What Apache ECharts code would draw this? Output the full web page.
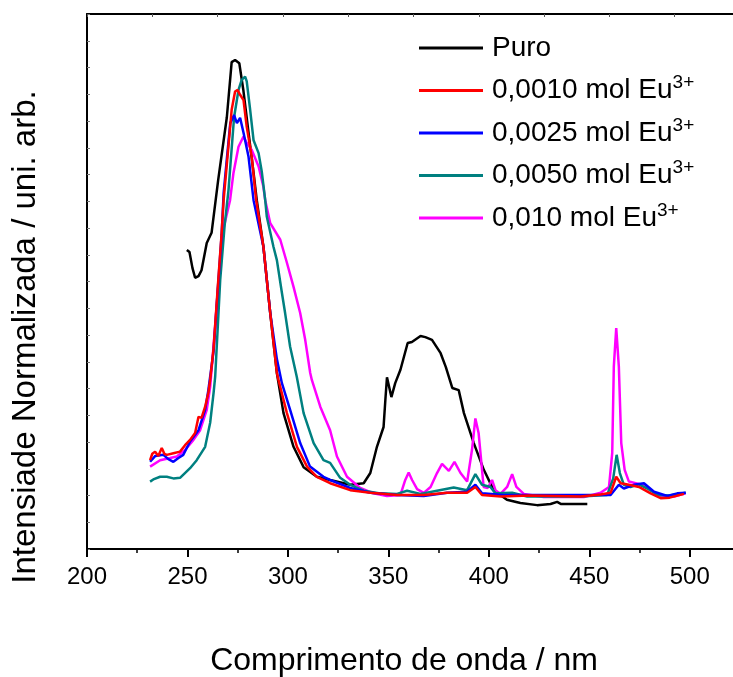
<!DOCTYPE html>
<html>
<head>
<meta charset="utf-8">
<script src="https://cdn.jsdelivr.net/npm/echarts@6/dist/echarts.min.js"></script>
<style>
  html, body { margin: 0; padding: 0; background: #fff; }
  #chart { width: 733px; height: 677px; }
</style>
</head>
<body>
<div id="chart"></div>
<script>
// [comprimento de onda (nm), intensidade normalizada]
const puro = [
  [249.7,55.9],[251,55.5],[252.5,52.5],[253.8,50.7],[255.5,51.0],[257,52.1],[259.6,57.2],[262,59.1],
  [265.3,69.0],[269.6,80.7],[272,91.0],[273.7,91.4],[275.8,90.8],[277.8,85.8],[280.4,77.8],[282.9,70.3],
  [284.5,65.2],[287.8,56.5],[291.2,44.1],[294.5,32.9],[297.8,25.4],[302.8,19.1],[307.8,15.3],[314.4,13.5],
  [321,12.9],[331,12.0],[337.7,12.3],[341,14.2],[344.3,19.1],[347.6,22.8],[348.5,27.9],[349.3,32.1],
  [351.5,28.4],[353.4,31.0],[356,33.5],[359.6,38.5],[361.7,38.7],[366,39.8],[368.4,39.6],[371.7,39.1],
  [376,36.6],[378.6,34.0],[381.8,30.1],[385,29.7],[387.6,25.4],[392.5,19.8],[397.5,14.8],[402.4,11.0],
  [409,9.2],[415.7,8.6],[424,8.2],[430.7,8.4],[434,8.8],[436,8.4],[449,8.4]
];
const eu0010 = [
  [231.4,16.6],[232.5,17.8],[233.9,18.2],[235.5,17.4],[237.2,18.9],[238.5,17.8],[239.7,17.6],[243,17.9],
  [246.3,18.2],[248.8,19.4],[251.3,20.4],[253.8,21.7],[255.5,24.7],[257,24.5],[258.8,26.6],[260.4,29.2],
  [261.3,31.6],[263,37.5],[265,48.5],[267,59.0],[268,65.2],[270,73.6],[272,82.1],[273.7,85.5],[274.9,85.8],
  [276.2,84.9],[277.9,83.9],[279.5,78.9],[282,73.3],[284.2,65.2],[287.8,56.5],[291.2,44.1],[294.5,32.9],
  [295.3,31.6],[299.5,25.4],[304.5,19.1],[309.5,15.4],[314.4,13.5],[321,12.3],[331,11.0],[341,10.5],
  [354.3,10.1],[367.6,10.1],[379.2,10.5],[389.2,10.5],[393.3,11.6],[396.6,10.1],[406,9.8],[420,10.0],
  [445.7,9.8],[455.6,10.2],[460.6,10.5],[463.4,13.5],[465.6,12.3],[469.7,12.0],[474.7,11.6],[480.5,10.4],
  [485.5,9.5],[490,9.6],[497.1,10.3]
];
const eu0025 = [
  [231.4,16.3],[234,17.4],[238,17.6],[240.5,16.8],[243,16.3],[245.5,17.0],[247.9,17.6],[251.3,20.1],
  [255.5,22.2],[258.8,26.0],[260.4,29.7],[263,37.0],[265,48.0],[267,58.7],[268,66.5],[269.5,72.5],
  [271.3,79.6],[273.2,81.1],[274.6,79.6],[276.2,80.6],[277.9,77.8],[280.4,73.3],[282.9,65.2],[287.8,56.5],
  [291.2,44.1],[294.5,35.5],[297,31.0],[301.1,26.0],[306.1,19.8],[311,15.4],[317.7,13.5],[321,12.9],
  [331,11.4],[341,10.5],[354.3,10.1],[367.6,9.9],[379.2,10.5],[389.2,10.7],[393.3,12.0],[396.6,10.4],
  [407.4,10.1],[434,10.1],[446,10.1],[460.6,10.1],[464.7,12.0],[467.2,11.3],[472.2,12.0],[477.2,12.3],
  [482.2,10.7],[488.8,9.9],[493.8,10.4],[498,10.5]
];
const eu0050 = [
  [231.4,12.6],[233,13.0],[236.4,13.5],[239.7,13.5],[243,13.2],[246.3,13.3],[251.3,15.1],[254.6,16.6],
  [258.8,19.1],[261.3,23.6],[263,29.2],[263.8,32.2],[266.3,50.3],[268.5,60.5],[270.4,67.0],[273.2,80.7],
  [275.4,85.8],[277,87.7],[278.7,88.3],[279.5,87.4],[281.2,82.1],[282.9,76.4],[285.4,74.0],[287,70.5],
  [288.7,65.2],[289.5,62.1],[292.8,56.5],[294.5,54.0],[297,47.9],[298.6,44.1],[301.1,37.8],[304.4,32.2],
  [307.8,25.4],[312.8,19.8],[317.7,16.6],[321,16.1],[326,13.3],[331,12.0],[337.7,10.9],[346,10.4],
  [354.3,10.3],[359.3,10.9],[366,10.3],[374.2,10.9],[382.5,11.5],[389.2,11.0],[393.3,14.0],[396.6,12.0],
  [400.8,11.6],[403.3,10.4],[411.6,10.5],[419.1,9.8],[437.3,9.8],[445.7,9.8],[458.9,10.1],[461.9,13.2],
  [463.6,17.6],[465.2,14.2],[467.2,12.0],[470.5,11.6],[474.7,12.1],[478.9,11.3],[483.9,10.1],[490,10.0],
  [498,10.5]
];
const eu010 = [
  [231.4,15.4],[236.4,16.6],[241.4,17.0],[244.7,17.3],[248.8,18.5],[253,20.4],[256.3,22.2],[259.6,26.0],
  [261.3,30.3],[263,38.0],[265.5,50.0],[268,60.0],[271.2,65.2],[272.9,70.3],[275.4,75.2],[277.9,77.1],
  [279.5,75.9],[282,74.6],[285.4,71.5],[287.8,67.7],[288.7,65.2],[291.2,60.9],[296.2,57.8],[299.5,53.5],
  [302.8,49.0],[306.1,44.1],[308.6,39.1],[311.1,32.9],[311.9,31.6],[316.1,26.6],[321,22.2],[324.4,17.3],
  [329.4,13.5],[336,11.4],[342.6,10.4],[349.3,9.9],[356,10.1],[358.4,12.9],[360.1,14.3],[361.8,12.9],
  [364.3,11.2],[367.6,10.5],[371,11.6],[374.2,14.2],[376.7,15.9],[380.1,14.6],[382.9,16.3],[385.9,14.2],
  [389.2,12.6],[391.6,18.5],[393.3,24.4],[394.9,21.7],[397.4,11.6],[399.4,11.4],[401.6,12.9],[403.3,11.0],
  [405.8,10.3],[409.1,11.6],[411.6,14.0],[413.7,11.6],[417.4,10.3],[427.3,9.7],[447.3,9.7],[455.6,10.5],
  [459.8,11.6],[461.4,17.9],[462.2,34.1],[463.4,41.3],[464.7,34.1],[465.9,19.8],[467.6,14.8],[469.7,12.6],
  [473.1,12.3],[476.4,12.0],[480.5,11.0],[485.5,9.9],[492.2,9.8],[498,10.4]
];

const seriesNames = ['Puro', '0,0010 mol Eu3+', '0,0025 mol Eu3+', '0,0050 mol Eu3+', '0,010 mol Eu3+'];
const seriesData = [puro, eu0010, eu0025, eu0050, eu010];
const colors = ['#000000', '#ff0000', '#0000ff', '#008080', '#ff00ff'];

const font = 'Liberation Sans, Arial, sans-serif';
const chart = echarts.init(document.getElementById('chart'));

const option = {
  animation: false,
  color: colors,
  // o quadro continua para além da borda direita da imagem
  grid: { left: 87, top: 14, bottom: 128, width: 653, outerBoundsMode: 'none' },
  legend: {
    orient: 'vertical',
    left: 414,
    top: 26,
    itemWidth: 64,
    itemHeight: 3,
    itemGap: 11.5,
    icon: 'rect',
    data: seriesNames,
    formatter: function (name) {
      if (name.endsWith('3+')) {
        return '{a|' + name.slice(0, -2) + '}{s|3+}';
      }
      return '{a|' + name + '}{s| }';
    },
    textStyle: {
      padding: [0, 0, 0, 4],
      rich: {
        a: { fontSize: 28, fontFamily: font, color: '#000', lineHeight: 34 },
        s: { fontSize: 19, fontFamily: font, color: '#000', lineHeight: 19, verticalAlign: 'top' }
      }
    }
  },
  xAxis: [
    {
      type: 'value',
      min: 200,
      max: 525,
      interval: 50,
      position: 'bottom',
      axisLine: { lineStyle: { color: '#000', width: 2 } },
      axisTick: { inside: false, length: 8, lineStyle: { color: '#000', width: 2 } },
      minorTick: { show: true, splitNumber: 2, length: 4, lineStyle: { color: '#000', width: 1.5 } },
      splitLine: { show: false },
      axisLabel: {
        fontSize: 24, fontFamily: font, color: '#000', margin: 16,
        formatter: function (v) { return v % 50 === 0 ? String(v) : ''; }
      }
    },
    {
      type: 'value',
      min: 0,
      max: 10,
      interval: 1,
      position: 'top',
      axisLine: { lineStyle: { color: '#000', width: 2 } },
      axisTick: { inside: true, length: 3, lineStyle: { color: '#555', width: 1 } },
      axisLabel: { show: false },
      splitLine: { show: false }
    }
  ],
  yAxis: {
    type: 'value',
    min: 0,
    max: 100,
    interval: 5,
    axisLine: { show: true, lineStyle: { color: '#000', width: 2 } },
    axisTick: { show: true, inside: true, length: 3, lineStyle: { color: '#777', width: 1 } },
    axisLabel: { show: false },
    splitLine: { show: false }
  },
  graphic: [
    {
      type: 'text',
      x: 26,
      y: 337,
      rotation: Math.PI / 2,
      style: {
        text: 'Intensiade Normalizada / uni. arb.',
        font: '33px ' + font,
        fill: '#000',
        textAlign: 'center',
        textVerticalAlign: 'middle'
      }
    },
    {
      type: 'text',
      x: 404,
      y: 661,
      style: {
        text: 'Comprimento de onda / nm',
        font: '32px ' + font,
        fill: '#000',
        textAlign: 'center',
        textVerticalAlign: 'middle'
      }
    }
  ],
  series: seriesNames.map(function (name, i) {
    return {
      name: name,
      type: 'line',
      data: seriesData[i],
      showSymbol: false,
      symbol: 'none',
      lineStyle: { width: 2.5, color: colors[i] },
      z: i === 0 ? 2 : 2 + (4 - i)
    };
  })
};

chart.setOption(option);
</script>
</body>
</html>
